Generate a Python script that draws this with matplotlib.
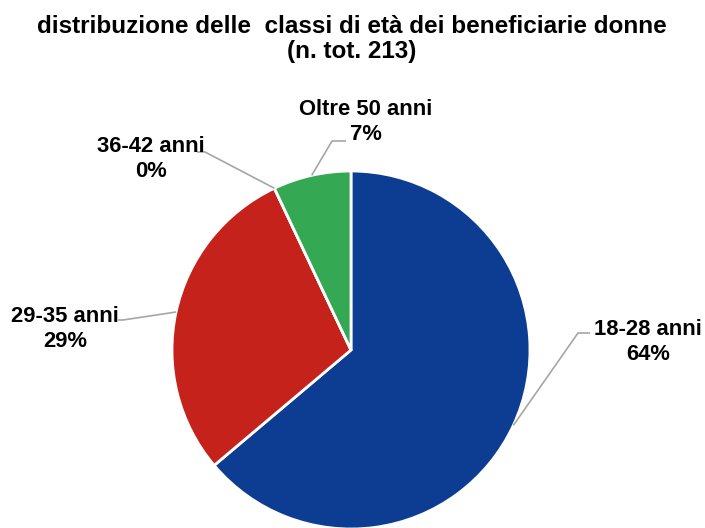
import numpy as np
import matplotlib
matplotlib.use("Agg")
import matplotlib.pyplot as plt

categories = ["18-28 anni", "29-35 anni", "36-42 anni", "Oltre 50 anni"]
values = [136, 62, 0, 15]
colors = ["#0D3D92", "#C4221A", "#34A853", "#34A853"]
title = "distribuzione delle  classi di età dei beneficiarie donne\n(n. tot. 213)"

plt.rcParams['font.family'] = ['Liberation Sans', 'DejaVu Sans']

W, H = 705, 528
fig = plt.figure(figsize=(W / 100, H / 100), dpi=100)
ax = fig.add_axes([0, 0, 1, 1])


def Y(y):
    # convert top-down pixel layout coordinate to axes data coordinate
    return H - y


cx, cy, r = 351, 350, 179
wedges, _ = ax.pie(values, colors=colors, startangle=90, counterclock=False,
                   center=(cx, Y(cy)), radius=r, frame=True,
                   wedgeprops=dict(edgecolor='white', linewidth=2))
ax.set_xlim(0, W)
ax.set_ylim(0, H)
ax.axis('off')

total = sum(values)
label_pos = [(648, 342), (65, 329), (151, 159), (366, 122)]
elbows = [((578, 333), (590, 333)), ((123, 320), (118, 320)),
          ((205, 152), (197, 152)), ((332, 141), (346, 141))]

for w, cat, v, lp, (e1, e2) in zip(wedges, categories, values, label_pos, elbows):
    ang = np.deg2rad((w.theta1 + w.theta2) / 2)
    px = cx + r * np.cos(ang)
    py = Y(cy) + r * np.sin(ang)
    ax.plot([px, e1[0], e2[0]], [py, Y(e1[1]), Y(e2[1])], color='#A6A6A6', lw=1.2,
            solid_capstyle='butt', zorder=3)
    pct = round(v / total * 100)
    ax.text(lp[0], Y(lp[1]), f"{cat}\n{pct}%", ha='center', va='center',
            fontsize=15.8, fontweight='bold', color='black', linespacing=1.2)

ax.text(W / 2 - 1, Y(39), title, ha='center', va='center', fontsize=17.5,
        fontweight='bold', color='black', linespacing=1.1)

fig.savefig("out.png", dpi=100)
